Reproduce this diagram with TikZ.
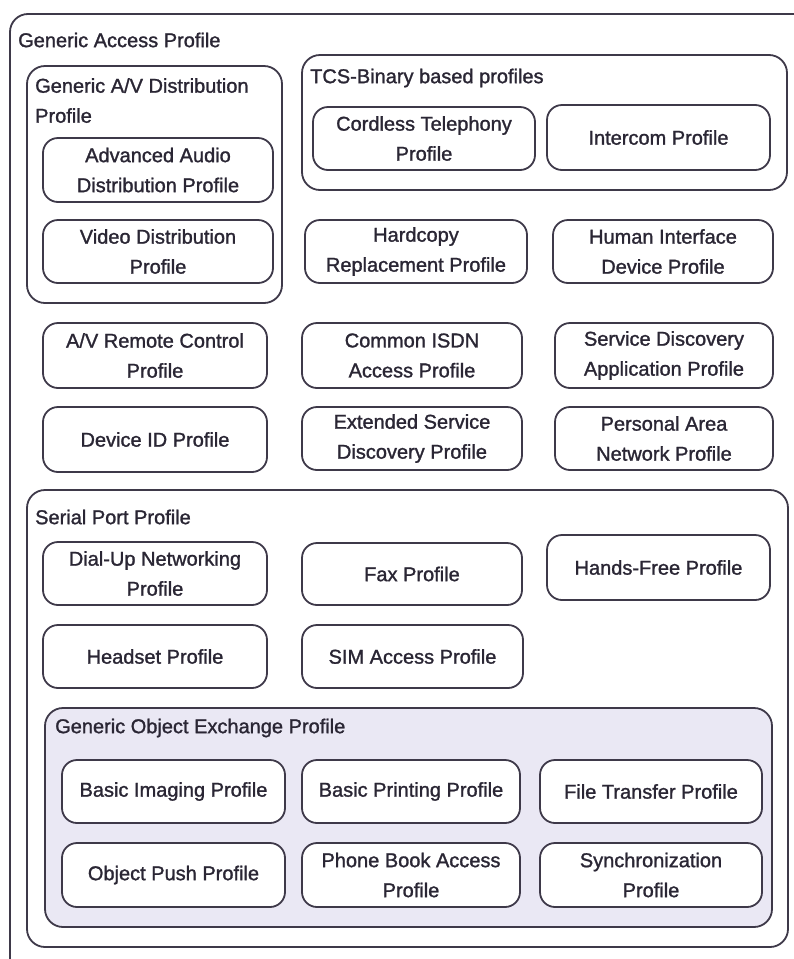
\documentclass[tikz,border=0pt]{standalone}
\usepackage{fontspec}
\setmainfont{Liberation Sans}[BoldFont={Liberation Sans},BoldFeatures={FakeBold=1.3}]
\begin{document}
\definecolor{ink}{HTML}{3E3949}
\definecolor{txt}{HTML}{2A2634}
\definecolor{obexfill}{HTML}{EAE8F4}
\begin{tikzpicture}[x=1pt,y=-1pt,
  every node/.style={text=txt,font=\fontsize{20}{30}\selectfont\bfseries},
  profile/.style={draw=ink,line width=1.8pt,rounded corners=15pt,fill=white,
    align=center,inner sep=0pt},
  group/.style={draw=ink,line width=1.8pt,rounded corners=18pt,inner sep=0pt},
  grouplabel/.style={anchor=west,inner sep=0pt,align=left}]
\useasboundingbox (0,0) rectangle (794,959);
\fill[white] (0,0) rectangle (794,959);

% Generic Access Profile: the frame runs past the page on the right and bottom
\begin{scope}
  \clip (0,0) rectangle (794,959);
  \node[group,minimum width=820pt,minimum height=970pt] (gap) at (420,499) {};
\end{scope}
\node[grouplabel] (gapl) at (18,40) {Generic Access Profile};

% Generic A/V Distribution Profile
\node[group,minimum width=255pt,minimum height=237pt] (gavdp) at (154.5,184.5) {};
\node[grouplabel,anchor=north west] (gavdpl) at (35,78) {Generic A/V Distribution\\Profile};
\node[profile,minimum width=230pt,minimum height=64pt] (a2dp) at (158,170) {Advanced Audio\\Distribution Profile};
\node[profile,minimum width=230pt,minimum height=63pt] (vdp) at (158,251.5) {Video Distribution\\Profile};

% TCS-Binary based profiles
\node[group,minimum width=485pt,minimum height=135pt] (tcs) at (544.5,122.5) {};
\node[grouplabel] (tcsl) at (310,78) {TCS-Binary based profiles};
\node[profile,minimum width=222pt,minimum height=63pt] (ctp) at (424,138.5) {Cordless Telephony\\Profile};
\node[profile,minimum width=223pt,minimum height=65pt] (icp) at (658.5,137.5) {Intercom Profile};

% stand-alone profiles
\node[profile,minimum width=222pt,minimum height=63pt] (hcrp) at (416,251.5) {Hardcopy\\Replacement Profile};
\node[profile,minimum width=220pt,minimum height=63pt] (hid) at (663,251.5) {Human Interface\\Device Profile};
\node[profile,minimum width=224pt,minimum height=65pt] (avrcp) at (155,355.5) {A/V Remote Control\\Profile};
\node[profile,minimum width=220pt,minimum height=65pt] (cip) at (412,355.5) {Common ISDN\\Access Profile};
\node[profile,minimum width=218pt,minimum height=65pt] (sdap) at (664,355.5) {Service Discovery\\Application Profile};
\node[profile,minimum width=224pt,minimum height=65pt] (did) at (155,439.5) {Device ID Profile};
\node[profile,minimum width=220pt,minimum height=63pt] (esdp) at (412,438.5) {Extended Service\\Discovery Profile};
\node[profile,minimum width=218pt,minimum height=63pt] (pan) at (664,438.5) {Personal Area\\Network Profile};

% Serial Port Profile
\node[group,minimum width=761pt,minimum height=457pt] (spp) at (407.5,718.5) {};
\node[grouplabel] (sppl) at (35,517) {Serial Port Profile};
\node[profile,minimum width=224pt,minimum height=63pt] (dun) at (155,573.5) {Dial-Up Networking\\Profile};
\node[profile,minimum width=220pt,minimum height=62pt] (fax) at (412,574) {Fax Profile};
\node[profile,minimum width=223pt,minimum height=65pt] (hfp) at (658.5,567.5) {Hands-Free Profile};
\node[profile,minimum width=224pt,minimum height=63pt] (hsp) at (155,656.5) {Headset Profile};
\node[profile,minimum width=221pt,minimum height=63pt] (sap) at (412.5,656.5) {SIM Access Profile};

% Generic Object Exchange Profile
\node[group,fill=obexfill,minimum width=727pt,minimum height=219pt] (goep) at (408.5,817.5) {};
\node[grouplabel] (goepl) at (55,728) {Generic Object Exchange Profile};
\node[profile,minimum width=223pt,minimum height=63pt] (bip) at (173.5,791.5) {Basic Imaging Profile};
\node[profile,minimum width=218pt,minimum height=63pt] (bpp) at (411,791.5) {Basic Printing Profile};
\node[profile,minimum width=222pt,minimum height=63pt] (ftp) at (651,791.5) {File Transfer Profile};
\node[profile,minimum width=223pt,minimum height=64pt] (opp) at (173.5,875) {Object Push Profile};
\node[profile,minimum width=218pt,minimum height=64pt] (pbap) at (411,875) {Phone Book Access\\Profile};
\node[profile,minimum width=222pt,minimum height=64pt] (sync) at (651,875) {Synchronization\\Profile};
\end{tikzpicture}
\end{document}
